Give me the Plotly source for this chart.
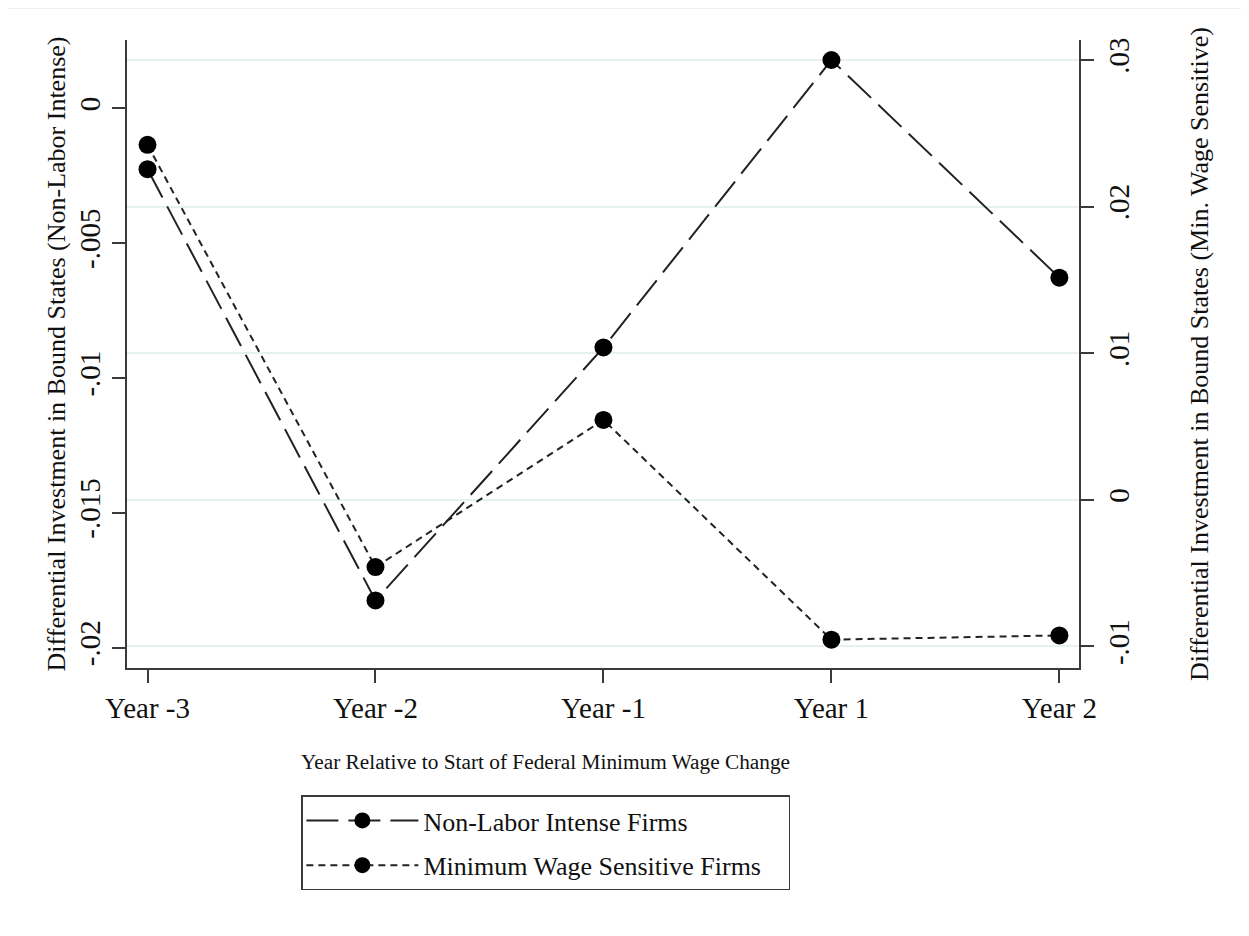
import plotly.graph_objects as go

# ---- data ----
years = ["Year -3", "Year -2", "Year -1", "Year 1", "Year 2"]
non_labor = [-0.00226, -0.01825, -0.00887, 0.00179, -0.00628]      # left axis
min_wage = [0.02421, -0.00459, 0.00545, -0.00954, -0.00925]         # right axis

left_ticks = [0, -0.005, -0.01, -0.015, -0.02]
left_ticktext = ["0", "-.005", "-.01", "-.015", "-.02"]
right_ticks = [0.03, 0.02, 0.01, 0, -0.01]
right_ticktext = [".03", ".02", ".01", "0", "-.01"]

FONT = "Liberation Serif, Times New Roman, serif"
AX = "#3a3a3a"
TXT = "#111111"

fig = go.Figure()
fig.add_trace(go.Scatter(
    x=years, y=non_labor, name="Non-Labor Intense Firms", mode="lines+markers",
    legendgroup="a",
    line=dict(color="#222222", width=2, dash="32px,10px"),
    marker=dict(color="black", size=18, symbol="circle"), yaxis="y"))
fig.add_trace(go.Scatter(
    x=years, y=min_wage, name="Minimum Wage Sensitive Firms", mode="lines+markers",
    legendgroup="b",
    line=dict(color="#222222", width=2, dash="7px,5px"),
    marker=dict(color="black", size=18, symbol="circle"), yaxis="y2"))

fig.update_layout(
    width=1241, height=928,
    margin=dict(l=119, r=170, t=32, b=268, autoexpand=False),
    paper_bgcolor="white", plot_bgcolor="white",
    font=dict(family=FONT, color=TXT),
    showlegend=True,
    legend=dict(
        orientation="h", entrywidth=360, entrywidthmode="pixels",
        x=0.44, xanchor="center", y=-0.203, yanchor="top",
        bordercolor=AX, borderwidth=1.5, bgcolor="white",
        font=dict(family=FONT, size=26, color=TXT),
        itemwidth=112, traceorder="grouped", tracegroupgap=8,
    ),
    xaxis=dict(
        type="category", range=[-0.09, 4.086],
        showline=True, linecolor=AX, linewidth=2,
        ticks="outside", ticklen=13, tickwidth=1.5, tickcolor=AX,
        tickfont=dict(family=FONT, size=29, color=TXT),
        showgrid=False, zeroline=False, fixedrange=True,
    ),
    yaxis=dict(
        range=[-0.020756, 0.002532],
        tickvals=left_ticks, ticktext=left_ticktext, tickangle=-90,
        showline=True, linecolor=AX, linewidth=2,
        ticks="outside", ticklen=13, tickwidth=1.5, tickcolor=AX,
        tickfont=dict(family=FONT, size=29, color=TXT),
        showgrid=False, zeroline=False,
        title=dict(text="Differential Investment in Bound States (Non-Labor Intense)",
                   font=dict(family=FONT, size=26, color=TXT), standoff=1),
    ),
    yaxis2=dict(
        range=[-0.011472, 0.031363], overlaying="y", side="right",
        tickvals=right_ticks, ticktext=right_ticktext, tickangle=-90,
        showline=True, linecolor=AX, linewidth=2,
        ticks="outside", ticklen=13, tickwidth=1.5, tickcolor=AX,
        tickfont=dict(family=FONT, size=29, color=TXT),
        showgrid=True, gridcolor="#e7f0f1", gridwidth=2, zeroline=False,
        title=dict(text="Differential Investment in Bound States (Min. Wage Sensitive)",
                   font=dict(family=FONT, size=26, color=TXT), standoff=56),
    ),
    annotations=[dict(
        text="Year Relative to Start of Federal Minimum Wage Change",
        xref="paper", yref="paper", x=0.44, y=-0.149, xanchor="center", yanchor="middle",
        showarrow=False, font=dict(family=FONT, size=21.3, color=TXT))],
    shapes=[dict(type="rect", xref="paper", yref="paper",
                 x0=-0.126, y0=-0.6, x1=1.4, y1=1.0509,
                 line=dict(color="#eceeee", width=1.5), layer="below")],
)

fig.write_html("out.html")
